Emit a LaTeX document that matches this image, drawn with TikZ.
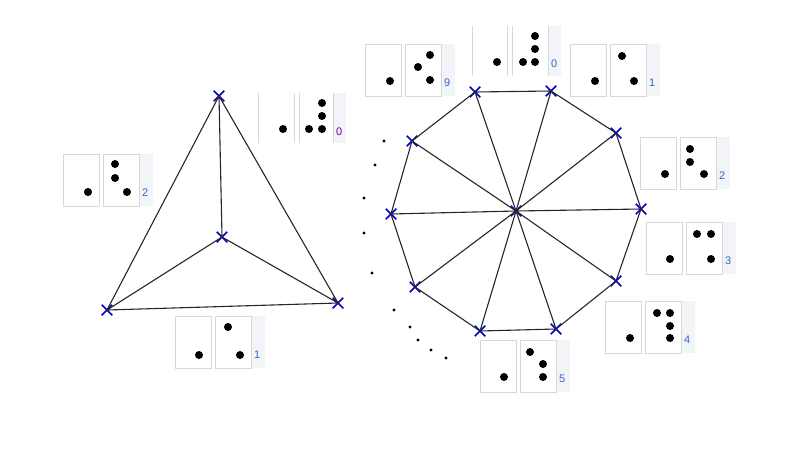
\documentclass[tikz,border=0pt]{standalone}
\usepackage{fontspec}
\setsansfont{Liberation Sans}
\usetikzlibrary{shapes.misc}
\definecolor{boxgray}{HTML}{D8D8D8}
\definecolor{tabgray}{HTML}{F2F4F7}
\definecolor{numblue}{HTML}{3366CC}
\tikzset{
  vx/.style={cross out,draw=blue!80!black,line width=1.5pt,minimum size=9pt,inner sep=0pt},
  edge/.style={draw=black!85,line width=1.1pt},
  cbox/.style={draw=boxgray,line width=1pt,fill=white},
  tab/.style={fill=tabgray,draw=none},
  num/.style={text=numblue,font=\sffamily\fontsize{11}{11}\selectfont,inner sep=0pt},
  pip/.style={fill=black,draw=none},
  arcdot/.style={fill=black,draw=none}
}
% \cardbox{x}{y}{number}{right-box pips}{left pip}
\newcommand{\cardbox}[5]{%
  \fill[tab] (#1+76,#2) rectangle (#1+90,#2+52);
  \draw[cbox] (#1,#2) rectangle (#1+36,#2+52);
  \draw[cbox] (#1+40,#2) rectangle (#1+76,#2+52);
  \foreach \px/\py in {#5} \fill[pip] (#1+\px,#2+\py) circle (4);
  \foreach \px/\py in {#4} \fill[pip] (#1+40+\px,#2+\py) circle (4);
  \node[num,anchor=base west] at (#1+79,#2+42) {#3};
}
\begin{document}
\begin{tikzpicture}[x=1pt,y=-1pt]
\useasboundingbox (0,0) rectangle (800,450);
% ---------- triangle ----------
\node[vx] (tt) at (219,96) {};
\node[vx] (tc) at (222,237) {};
\node[vx] (tl) at (107,310) {};
\node[vx] (tr) at (338,303) {};
\draw[edge] (tt.center)--(tl.center)--(tr.center)--(tt.center)--(tc.center)--(tl.center) (tc.center)--(tr.center);
% triangle cards
\cardbox{63}{154}{2}{12/10,12/24,24/38}{25/38}
\cardbox{175}{316}{1}{13/11,25/39}{24/39}
% open card 0 (left)
\fill[tab] (334,93) rectangle (346,143);
\draw[boxgray,line width=1pt] (258,93)--(258,143) (294,93)--(294,143) (299,93)--(299,143) (333,93)--(333,143);
\foreach \px/\py in {283/129,309/129,322/129,322/116,322/103} \fill[pip] (\px,\py) circle (4);
\node[num,anchor=base west,text=violet!70!blue] at (336,135) {0};
% ---------- decagon ----------
\node[vx] (c) at (516,211) {};
\node[vx] (d0) at (475,92) {};
\node[vx] (d1) at (551,91) {};
\node[vx] (d2) at (616,133) {};
\node[vx] (d3) at (641,209) {};
\node[vx] (d4) at (616,281) {};
\node[vx] (d5) at (556,329) {};
\node[vx] (d6) at (480,331) {};
\node[vx] (d7) at (415,287) {};
\node[vx] (d8) at (391,214) {};
\node[vx] (d9) at (412,141) {};
\draw[edge] (d0.center)--(d1.center)--(d2.center)--(d3.center)--(d4.center)--(d5.center)--(d6.center)--(d7.center)--(d8.center)--(d9.center)--cycle;
\foreach \i in {0,...,9} \draw[edge] (c.center)--(d\i.center);
% arc of dots
\foreach \px/\py in {384/141,375/165,364/198,364/233,372/273,394/310,410/327,418/340,431/350,446/358}
  \fill[arcdot] (\px,\py) circle (1.7);
% decagon cards
\cardbox{365}{44}{9}{25/11,13/23,25/36}{25/37}
\cardbox{570}{44}{1}{12/12,24/37}{25/37}
\cardbox{640}{137}{2}{10/12,10/25,24/37}{25/37}
\cardbox{646}{222}{3}{11/12,25/12,25/37}{24/37}
\cardbox{605}{301}{4}{12/12,25/12,25/25,25/37}{25/37}
\cardbox{480}{340}{5}{10/12,23/24,23/37}{24/37}
% open card 0 (top)
\fill[tab] (549,26) rectangle (561,76);
\draw[boxgray,line width=1pt] (472,26)--(472,76) (507,26)--(507,76) (512,26)--(512,76) (548,26)--(548,76);
\foreach \px/\py in {497/62,523/62,535/62,535/49,535/36} \fill[pip] (\px,\py) circle (4);
\node[num,anchor=base west] at (551,67) {0};
\end{tikzpicture}
\end{document}
